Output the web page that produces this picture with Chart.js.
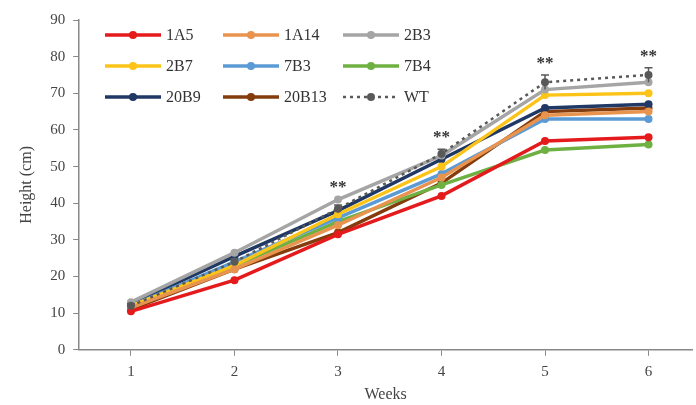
<!DOCTYPE html>
<html>
<head>
<meta charset="utf-8">
<script src="https://cdn.jsdelivr.net/npm/chart.js@4/dist/chart.umd.min.js"></script>
<style>
  html, body { margin: 0; padding: 0; background: #fff; }
  #wrap { width: 696px; height: 405px; }
</style>
</head>
<body>
<div id="wrap"><canvas id="myChart"></canvas></div>
<script>
// Weeks on the x axis
var weeks = [1, 2, 3, 4, 5, 6];

// Plant height (cm) per line
var h1A5   = [10.5, 19, 31.5, 42, 57, 58];
var h1A14  = [11.5, 22, 34, 47, 64, 65];
var h2B3   = [13, 26.5, 41, 53, 71, 73];
var h2B7   = [12, 23, 37, 50, 69.5, 70];
var h7B3   = [12, 24, 36, 48, 63, 63];
var h7B4   = [11.5, 23, 35, 45, 54.5, 56];
var h20B9  = [12.5, 25.5, 38, 52, 66, 67];
var h20B13 = [11, 22, 32, 45.5, 65, 66];
var hWT    = [12, 24, 38.5, 53.5, 73, 75];
var errWT  = [0.6, 0.8, 1, 1.2, 2, 2];

// weeks with significance marks
var starWeeks = [3, 4, 5, 6];

var yTicks = [0, 10, 20, 30, 40, 50, 60, 70, 80, 90];

var FONT = '"Liberation Serif", "DejaVu Serif", serif';

function series(label, values, color, dashed) {
    return {
        label: label,
        data: weeks.map(function (w, i) { return { x: w, y: values[i] }; }),
        borderColor: color,
        backgroundColor: color,
        borderWidth: dashed ? 2.5 : 3.5,
        borderDash: dashed ? [3, 4] : [],
        pointRadius: 4,
        pointBorderWidth: 0,
        pointBackgroundColor: color,
        tension: 0,
        fill: false
    };
}

var datasets = [
    series('1A5', h1A5, '#e41a1c'),
    series('1A14', h1A14, '#e8944f'),
    series('2B3', h2B3, '#a5a5a5'),
    series('2B7', h2B7, '#fcc419'),
    series('7B3', h7B3, '#5b9bd5'),
    series('7B4', h7B4, '#6fb043'),
    series('20B9', h20B9, '#1f3864'),
    series('20B13', h20B13, '#843c0c'),
    series('WT', hWT, '#595959', true)
];
// draw WT on top, then the others
datasets[8].order = -1;

var overlay = {
    id: 'overlay',
    afterDatasetsDraw: function (chart) {
        var ctx = chart.ctx;
        var xs = chart.scales.x, ys = chart.scales.y;
        ctx.save();

        // error bars on WT
        ctx.strokeStyle = '#595959';
        ctx.lineWidth = 1.5;
        errWT.forEach(function (e, i) {
            var px = xs.getPixelForValue(weeks[i]);
            var top = ys.getPixelForValue(hWT[i] + e);
            var bot = ys.getPixelForValue(hWT[i] - e);
            ctx.beginPath();
            ctx.moveTo(px, top); ctx.lineTo(px, bot);
            ctx.moveTo(px - 4, top); ctx.lineTo(px + 4, top);
            ctx.stroke();
        });

        // ** marks
        ctx.fillStyle = '#333';
        ctx.font = 'bold 17px ' + FONT;
        ctx.textAlign = 'center';
        ctx.textBaseline = 'bottom';
        starWeeks.forEach(function (w) {
            var i = weeks.indexOf(w);
            var top = Math.max(h2B3[i], hWT[i] + errWT[i]);
            var px = xs.getPixelForValue(w);
            var py = ys.getPixelForValue(top) - 3;
            ctx.fillText('**', px, py);
        });

        // legend inside the plot, 3 columns
        var colX = [105, 223, 343];
        var rowY = [35, 66, 97];
        ctx.font = '16px ' + FONT;
        ctx.textAlign = 'left';
        ctx.textBaseline = 'middle';
        chart.data.datasets.forEach(function (ds, i) {
            var x0 = colX[i % 3], y0 = rowY[Math.floor(i / 3)];
            ctx.strokeStyle = ds.borderColor;
            ctx.lineWidth = ds.borderWidth;
            ctx.setLineDash(ds.borderDash);
            ctx.beginPath();
            ctx.moveTo(x0, y0); ctx.lineTo(x0 + 56, y0);
            ctx.stroke();
            ctx.setLineDash([]);
            ctx.fillStyle = ds.borderColor;
            ctx.beginPath();
            ctx.arc(x0 + 28, y0, 4, 0, Math.PI * 2);
            ctx.fill();
            ctx.fillStyle = '#333';
            ctx.fillText(ds.label, x0 + 61, y0 + 1);
        });
        ctx.restore();
    }
};

var ctx = document.getElementById('myChart').getContext('2d');
var myChart = new Chart(ctx, {
    type: 'line',
    data: { datasets: datasets },
    plugins: [overlay],
    options: {
        responsive: true,
        maintainAspectRatio: false,
        animation: false,
        layout: { padding: { top: 20, right: 0, left: 13, bottom: 1 } },
        plugins: {
            legend: { display: false },
            tooltip: { enabled: false }
        },
        scales: {
            x: {
                type: 'linear',
                min: 0.5,
                max: 6.42,
                afterBuildTicks: function (axis) {
                    axis.ticks = weeks.map(function (w) { return { value: w }; });
                },
                grid: { drawOnChartArea: false, drawTicks: true, tickLength: 6, color: '#888' },
                border: { color: '#888', width: 1.5 },
                ticks: { color: '#444', font: { family: FONT, size: 15 }, padding: 7 },
                title: { display: true, text: 'Weeks', color: '#444', font: { family: FONT, size: 16 }, padding: { top: -3, bottom: 0 } }
            },
            y: {
                min: 0,
                max: 90,
                afterBuildTicks: function (axis) {
                    axis.ticks = yTicks.map(function (v) { return { value: v }; });
                },
                grid: { drawOnChartArea: false, drawTicks: true, tickLength: 6, color: '#888' },
                border: { color: '#888', width: 1.5 },
                ticks: { color: '#444', font: { family: FONT, size: 15 }, padding: 8 },
                title: { display: true, text: 'Height (cm)', color: '#444', font: { family: FONT, size: 16 }, padding: { bottom: 6 } }
            }
        }
    }
});
</script>
</body>
</html>
